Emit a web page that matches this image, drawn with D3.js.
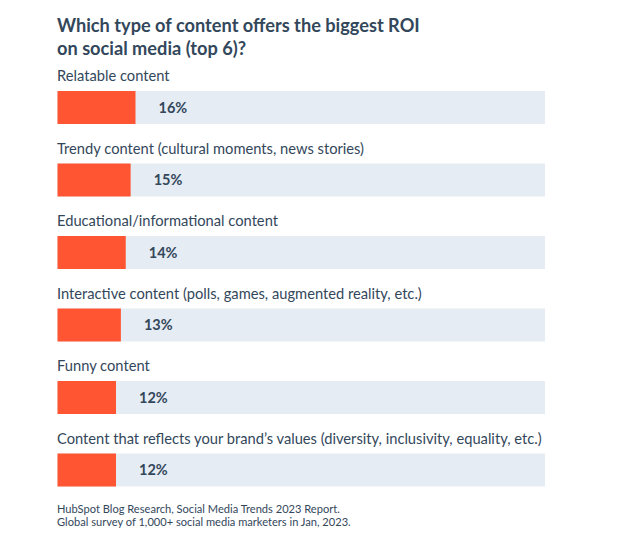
<!DOCTYPE html>
<html>
<head>
<meta charset="utf-8">
<script src="https://cdn.jsdelivr.net/npm/d3@7"></script>
<style>
  body { margin: 0; background: #fff; }
  svg { display: block; font-family: 'Lato', 'Noto Sans', sans-serif; }
</style>
</head>
<body>
<div id="chart"></div>
<script>
// chart data
var categories = [
  'Relatable content',
  'Trendy content (cultural moments, news stories)',
  'Educational/informational content',
  'Interactive content (polls, games, augmented reality, etc.)',
  'Funny content',
  'Content that reflects your brand\u2019s values (diversity, inclusivity, equality, etc.)'
];
var values = [16, 15, 14, 13, 12, 12];
var titleLines = ['Which type of content offers the biggest ROI', 'on social media (top 6)?'];
var sourceLines = ['HubSpot Blog Research, Social Media Trends 2023 Report.',
                   'Global survey of 1,000+ social media marketers in Jan, 2023.'];

var width = 621, height = 536;
var ink = '#33475b';

var svg = d3.select('#chart').append('svg')
  .attr('width', width)
  .attr('height', height);

// scales
var x = d3.scaleLinear().domain([0, 100]).range([57.5, 545]);
var y = d3.scaleBand().domain(categories).range([91, 486.5]).paddingInner(0.545).paddingOuter(0);

// title
svg.append('g').selectAll('text')
  .data(titleLines)
  .enter().append('text')
  .attr('x', 57)
  .attr('y', function(d, i) { return 32 + i * 23; })
  .attr('fill', ink)
  .attr('font-size', 18.2)
  .attr('font-weight', 700)
  .text(function(d) { return d; });

var rows = svg.append('g').selectAll('g')
  .data(categories)
  .enter().append('g');

// grey track
rows.append('rect')
  .attr('x', x(0))
  .attr('y', function(d) { return y(d); })
  .attr('width', x(100) - x(0))
  .attr('height', y.bandwidth())
  .attr('fill', '#e5ecf3');

// value bar
rows.append('rect')
  .attr('x', x(0))
  .attr('y', function(d) { return y(d); })
  .attr('width', function(d, i) { return x(values[i]) - x(0); })
  .attr('height', y.bandwidth())
  .attr('fill', '#ff5533');

// category label
rows.append('text')
  .attr('x', 57)
  .attr('y', function(d) { return y(d) - 10; })
  .attr('fill', ink)
  .attr('font-size', 14.7)
  .text(function(d) { return d; });

// percent label
rows.append('text')
  .attr('x', function(d, i) { return x(values[i]) + 23; })
  .attr('y', function(d) { return y(d) + y.bandwidth() / 2; })
  .attr('dy', '0.35em')
  .attr('fill', ink)
  .attr('font-size', 14.5)
  .attr('font-weight', 700)
  .text(function(d, i) { return values[i] + '%'; });

// source
svg.append('g').selectAll('text')
  .data(sourceLines)
  .enter().append('text')
  .attr('x', 57)
  .attr('y', function(d, i) { return 513 + i * 12.5; })
  .attr('fill', ink)
  .attr('font-size', 11.1)
  .text(function(d) { return d; });
</script>
</body>
</html>
